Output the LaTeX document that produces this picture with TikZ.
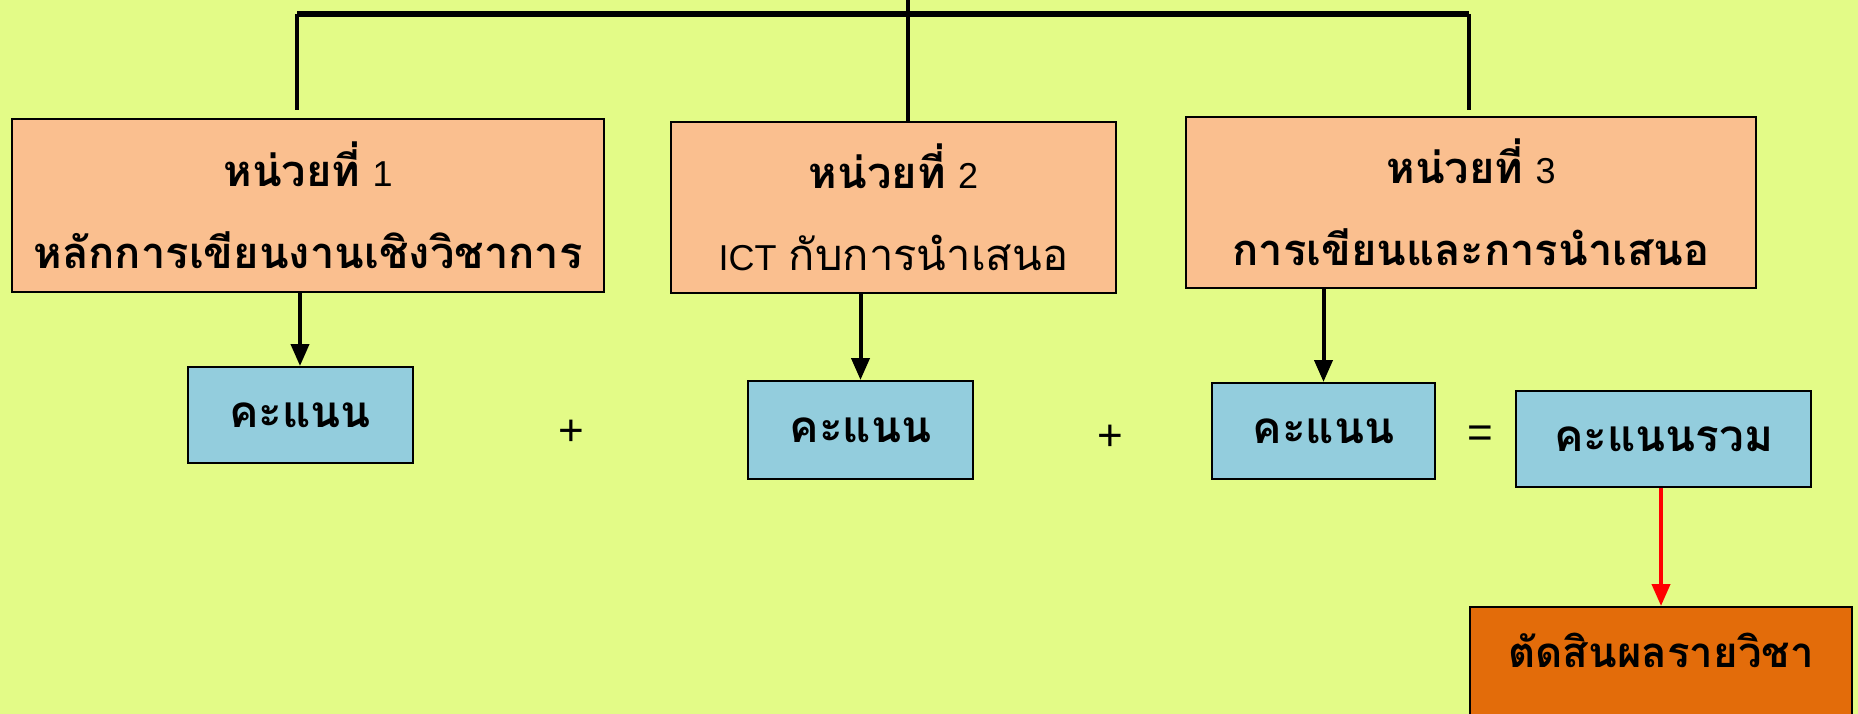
\documentclass[tikz,border=0pt]{standalone}
\usepackage{fontspec}
\setmainfont{Liberation Sans}
\newfontfamily\thaifont[Script=Thai]{Loma}
\usetikzlibrary{arrows.meta}
\definecolor{bgc}{HTML}{E3FB87}
\definecolor{salmon}{HTML}{FABF8F}
\definecolor{lblue}{HTML}{93CDDD}
\definecolor{dorange}{HTML}{E36C0A}
\newcommand{\thb}[1]{{\thaifont\bfseries #1}}
\newcommand{\thr}[1]{{\thaifont #1}}
\newcommand{\lt}[1]{{\fontsize{36}{82}\selectfont #1}}
\begin{document}
\begin{tikzpicture}[x=1pt,y=-1pt,
  unitbox/.style={draw, line width=2pt, fill=salmon, align=center, inner sep=0pt,
    font=\fontsize{43.5}{82}\selectfont},
  scorebox/.style={draw, line width=2pt, fill=lblue, align=center, inner sep=0pt,
    font=\fontsize{44}{50}\selectfont},
  opsign/.style={font=\fontsize{44}{48}\selectfont, inner sep=0pt},
  conn/.style={line width=4pt},
  arr/.style={line width=4pt, -{Triangle[length=22pt,width=18pt]}},
  redarr/.style={line width=4pt, red, -{Triangle[length=22pt,width=18pt]}}
]
\fill[bgc] (0,0) rectangle (1858,714);
\useasboundingbox (0,0) rectangle (1858,714);

\node[unitbox, minimum width=592, minimum height=173] (u1) at (308,205.5)
  {\thb{หน่วยที่} \lt{1}\\ \thb{หลักการเขียนงานเชิงวิชาการ}};
\node[unitbox, minimum width=445, minimum height=171] (u2) at (893.5,207.5)
  {\thb{หน่วยที่} \lt{2}\\ \lt{ICT} \thr{กับการนำเสนอ}};
\node[unitbox, minimum width=570, minimum height=171] (u3) at (1471,202.5)
  {\thb{หน่วยที่} \lt{3}\\ \thb{การเขียนและการนำเสนอ}};

\node[scorebox, minimum width=225, minimum height=96] (s1) at (300,415) {\thb{คะแนน}};
\node[scorebox, minimum width=225, minimum height=98] (s2) at (860.5,430) {\thb{คะแนน}};
\node[scorebox, minimum width=223, minimum height=96] (s3) at (1323.5,431) {\thb{คะแนน}};
\node[scorebox, minimum width=295, minimum height=96] (s4) at (1663.5,439) {\thb{คะแนนรวม}};

\node[draw, line width=2pt, fill=dorange, anchor=north, minimum width=382,
  inner ysep=10pt, text height=50pt, text depth=80pt,
  font=\fontsize{42}{50}\selectfont] (res) at (1661,606) {\thb{ตัดสินผลรายวิชา}};

\node[opsign] (p1) at (571,433) {+};
\node[opsign] (p2) at (1110,438) {+};
\node[opsign] (eq) at (1480,437) {=};

\coordinate (ctop) at (908,0);
\coordinate (barL) at (297,14);
\coordinate (barR) at (1469,14);
\coordinate (legL) at (297,110);
\coordinate (legR) at (1469,110);

\draw[line width=6pt] (barL) -- (barR);
\draw[conn] (ctop) -- (ctop |- u2.north);
\draw[conn] (barL) -- (legL);
\draw[conn] (barR) -- (legR);

\draw[arr] (u1.south -| s1.north) -- (s1.north);
\draw[arr] (u2.south -| s2.north) -- (s2.north);
\draw[arr] (u3.south -| s3.north) -- (s3.north);
\draw[redarr] (s4.south -| res.north) -- (res.north);
\end{tikzpicture}
\end{document}
